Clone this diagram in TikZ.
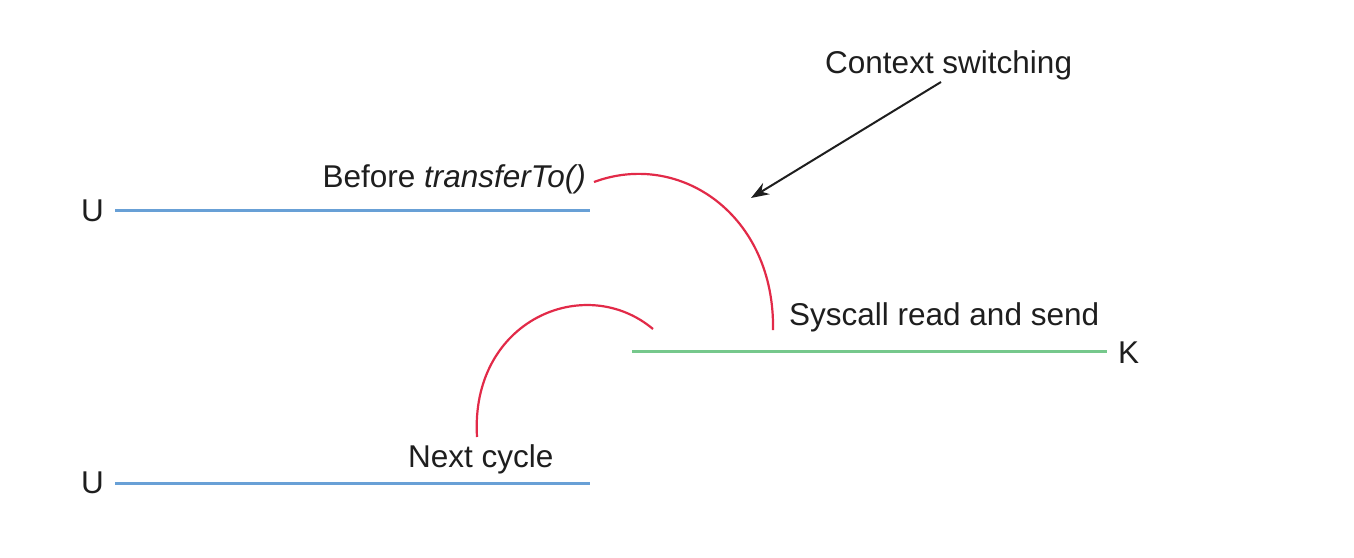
\documentclass[tikz,border=0pt]{standalone}
\usepackage{fontspec}
\setmainfont{Liberation Sans}
\usetikzlibrary{arrows.meta}
\definecolor{userblue}{RGB}{104,160,214}
\definecolor{kernelgreen}{RGB}{118,200,140}
\definecolor{switchred}{RGB}{226,42,72}
\definecolor{inkgray}{RGB}{30,30,30}
\begin{document}
\begin{tikzpicture}[x=1pt,y=-1pt,
  lbl/.style={inner sep=0pt,text=inkgray,font=\fontsize{31.5}{37}\selectfont},
  userline/.style={draw=userblue,line width=3pt},
  kernline/.style={draw=kernelgreen,line width=3pt},
  switcharc/.style={draw=switchred,line width=2.2pt},
  pointer/.style={draw=inkgray,line width=2pt,-{Stealth[length=18pt,width=13pt]}}]
  \useasboundingbox (0,0) rectangle (1354,557);
  \fill[white] (0,0) rectangle (1354,557);

  % labels
  \node[lbl,anchor=base east] (u1) at (104,221) {U};
  \node[lbl,anchor=base east] (u2) at (104,493) {U};
  \node[lbl,anchor=base west] (k) at (1118,363) {K};
  \node[lbl,anchor=base east] (before) at (586,187) {Before \textit{transferTo()}};
  \node[lbl,anchor=base west] (ctx) at (825,73) {Context switching};
  \node[lbl,anchor=base west] (sys) at (789,325) {Syscall read and send};
  \node[lbl,anchor=base west] (next) at (408,467) {Next cycle};

  % line end points
  \coordinate (u1a) at (115,210);
  \coordinate (u1b) at (590,210);
  \coordinate (u2a) at (115,483);
  \coordinate (u2b) at (590,483);
  \coordinate (ka) at (632,351);
  \coordinate (kb) at (1107,351);
  \coordinate (arcAstart) at (594,182);
  \coordinate (arcAend) at (773,330);
  \coordinate (arcBstart) at (477,437);
  \coordinate (arcBend) at (653,329);
  \coordinate (ptrFrom) at (941,82);
  \coordinate (ptrTo) at (751,198);

  % user and kernel timelines
  \draw[userline] (u1a) -- (u1b);
  \draw[userline] (u2a) -- (u2b);
  \draw[kernline] (ka) -- (kb);

  % mode switches
  \draw[switcharc] (arcAstart) .. controls (680,150) and (775,215) .. (arcAend);
  \draw[switcharc] (arcBstart) .. controls (470,320) and (585,272) .. (arcBend);

  % annotation arrow
  \draw[pointer] (ptrFrom) -- (ptrTo);
\end{tikzpicture}
\end{document}
